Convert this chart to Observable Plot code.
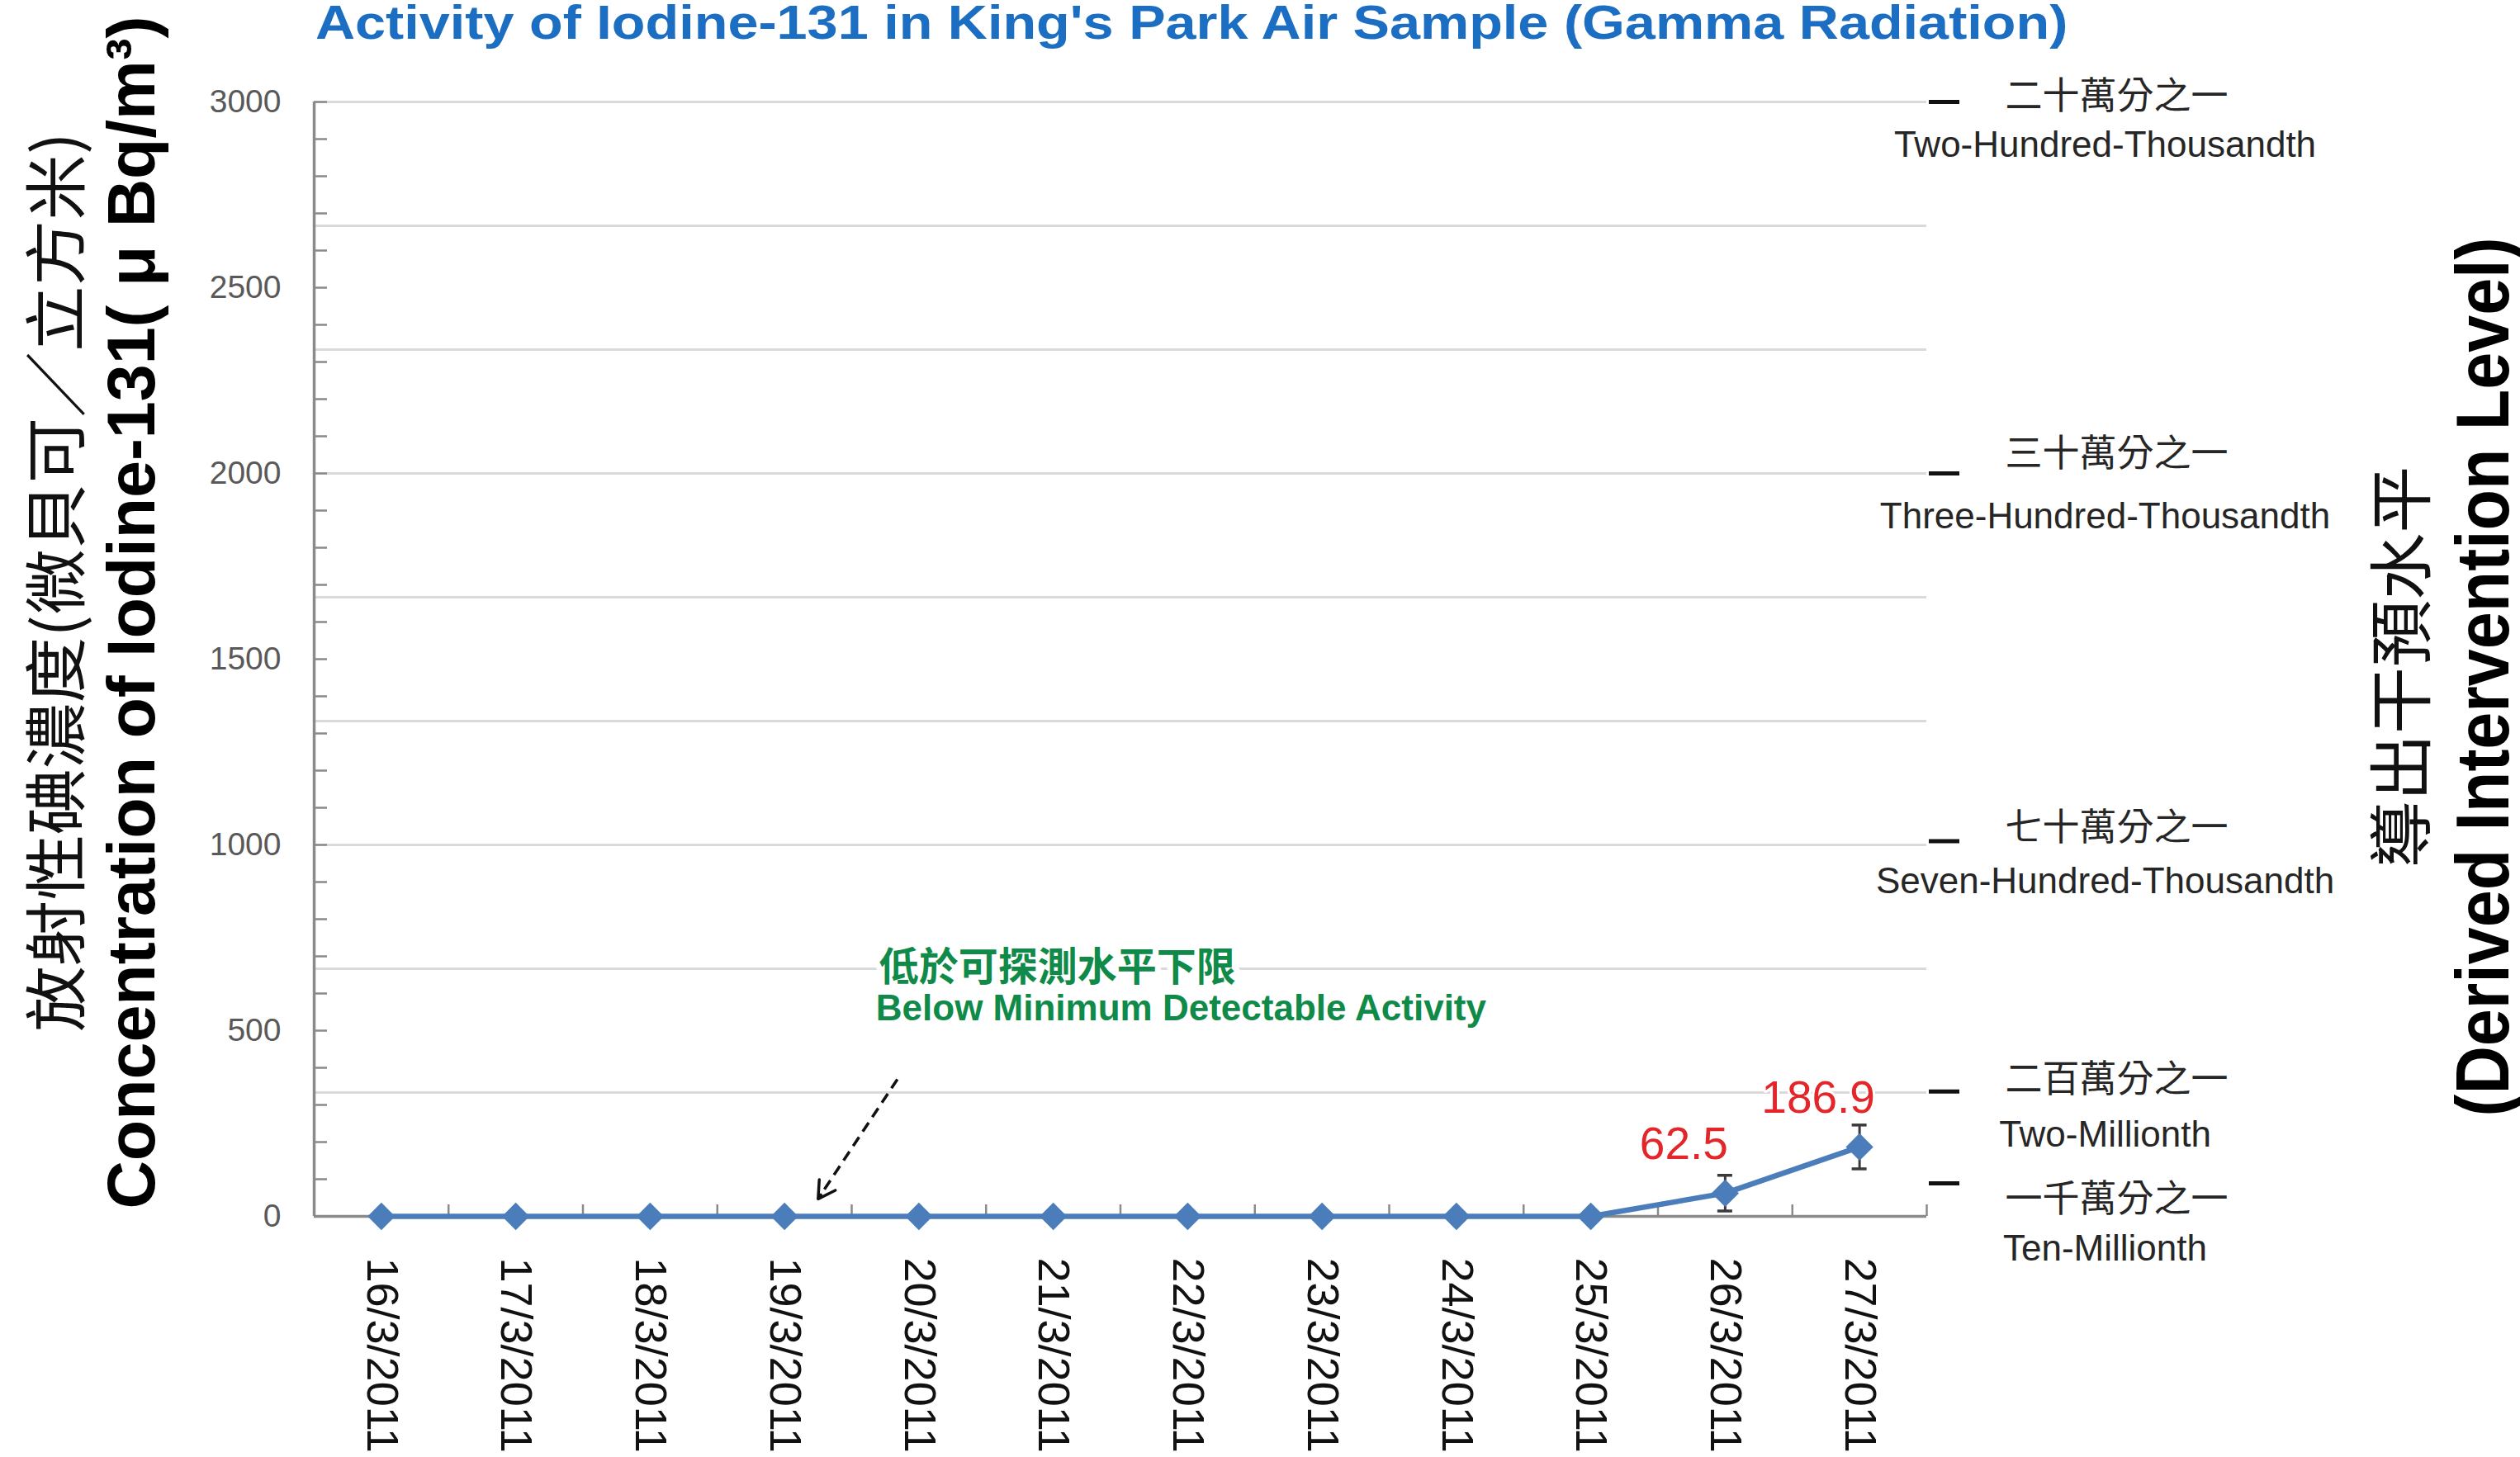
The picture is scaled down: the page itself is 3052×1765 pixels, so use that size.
<!DOCTYPE html>
<html>
<head>
<meta charset="utf-8">
<script src="https://cdn.jsdelivr.net/npm/d3@7"></script>
<script src="https://cdn.jsdelivr.net/npm/@observablehq/plot@0.6"></script>
<style>
  html, body { margin: 0; padding: 0; background: #fff; }
  #title {
    height: 54px; line-height: 54px;
    padding-left: 382px; white-space: nowrap;
  }
  #title span {
    display: inline-block;
    font-family: "Liberation Sans", Arial, sans-serif;
    font-weight: bold; font-size: 58px; color: #1b6ec2;
    transform: scaleX(1.148); transform-origin: 0 50%;
  }
  #chart svg { overflow: visible; display: block; }
</style>
</head>
<body>
<div id="title"><span>Activity of Iodine-131 in King's Park Air Sample (Gamma Radiation)</span></div>
<div id="chart"></div>
<script>
// ---------------- DATA ----------------
const dates = ["16/3/2011","17/3/2011","18/3/2011","19/3/2011","20/3/2011","21/3/2011",
               "22/3/2011","23/3/2011","24/3/2011","25/3/2011","26/3/2011","27/3/2011"];
const values = [0, 0, 0, 0, 0, 0, 0, 0, 0, 0, 62.5, 186.9];
const errors = [null, null, null, null, null, null, null, null, null, null, 48, 59];
const yTickValues = [0, 500, 1000, 1500, 2000, 2500, 3000];
const gridLevels = [333.3, 666.7, 1000, 1333.3, 1666.7, 2000, 2333.3, 2666.7, 3000];
const dilValues = [3000, 2000, 1010, 336, 89];
const dilZh = ["二十萬分之一", "三十萬分之一", "七十萬分之一", "二百萬分之一", "一千萬分之一"];
const dilEn = ["Two-Hundred-Thousandth", "Three-Hundred-Thousandth", "Seven-Hundred-Thousandth", "Two-Millionth", "Ten-Millionth"];

// ---------------- LAYOUT ----------------
const W = 3052, H = 1711;
const mt = 69, ml = 380, mr = 719, mb = 292;
const band = (W - ml - mr) / 12;          // px per category
const unitsPerPx = 3000 / (H - mt - mb);  // y units per px
const zhOff = [-6, -23, -15, -14, 20];
const enOff = [52, 52, 49, 53, 79];
const EN = "'Liberation Sans', Arial, sans-serif";
const ZH = "'Noto Sans CJK TC', 'Noto Sans CJK SC', sans-serif";

const data = dates.map((d, i) => ({i, date: d, v: values[i], e: errors[i]}));
const errData = data.filter(d => d.e != null);
const dil = dilValues.map((v, i) => ({v, zh: dilZh[i], en: dilEn[i], i}));
const yMinor = d3.range(0, 3001, 100);
const xBounds = d3.range(0.5, 12, 1);
const tickLenX = 16 / band;
const tickLenY = 14 * unitsPerPx;
const capHalf = 9 / band;

// annotation arrow (data coordinates)
const arrowFrom = {x: 3.84, y: 369}, arrowTo = {x: 3.25, y: 47};
const arrowLenPx = Math.hypot((arrowFrom.x - arrowTo.x) * band, (arrowFrom.y - arrowTo.y) / unitsPerPx);

const grey = "#8a8a8a";
const blue = "#4a7dba";

const plot = Plot.plot({
  width: W, height: H,
  marginTop: mt, marginLeft: ml, marginRight: mr, marginBottom: mb,
  style: {fontFamily: EN, background: "white", overflow: "visible"},
  x: {type: "linear", domain: [-0.5, 11.5]},
  y: {domain: [0, 3000]},
  marks: [
    Plot.ruleY(gridLevels, {stroke: "#dadada", strokeWidth: 3}),
    // y axis line + inward ticks
    Plot.ruleX([-0.5], {stroke: grey, strokeWidth: 3.5}),
    Plot.ruleY(yMinor, {x1: -0.5, x2: -0.5 + tickLenX, stroke: grey, strokeWidth: 2.5}),
    // x axis line + inward ticks at category boundaries
    Plot.ruleY([0], {stroke: grey, strokeWidth: 3.5}),
    Plot.ruleX(xBounds, {y1: 0, y2: tickLenY, stroke: grey, strokeWidth: 2.5}),
    Plot.axisY({ticks: yTickValues, tickFormat: d => String(d), tickSize: 0, tickPadding: 40,
                fontSize: 39, color: "#595959", label: null}),
    Plot.axisX({ticks: d3.range(12), tickFormat: i => dates[i], tickRotate: 90, tickSize: 0, tickPadding: 50,
                fontSize: 54, color: "#111", label: null}),
    // DIL ticks and labels on the right
    Plot.ruleY(dil, {y: "v", x1: 11.5 + 3 / band, x2: 11.5 + 40 / band, stroke: "#111", strokeWidth: 5}),
    Plot.text(dil, {y: (d, i) => d.v - zhOff[i] * unitsPerPx, frameAnchor: "right", dx: 230, text: "zh",
                    textAnchor: "middle", fontFamily: ZH, fontSize: 45, fill: "#262626"}),
    Plot.text(dil, {y: (d, i) => d.v - enOff[i] * unitsPerPx, frameAnchor: "right", dx: 216, text: "en",
                    textAnchor: "middle", fontSize: 44, fill: "#262626"}),
    // annotation
    Plot.text(["低於可探測水平下限"], {x: 3.705, y: 669, text: d => d, textAnchor: "start", fontFamily: ZH,
                    fontWeight: "bold", fontSize: 48, fill: "#0f8a48", stroke: "white", strokeWidth: 14, paintOrder: "stroke"}),
    Plot.text(["Below Minimum Detectable Activity"], {x: 3.68, y: 558, text: d => d, textAnchor: "start",
                    fontWeight: "bold", fontSize: 44, fill: "#0f8a48", stroke: "white", strokeWidth: 14, paintOrder: "stroke"}),
    Plot.link([0], {x1: arrowFrom.x, y1: arrowFrom.y, x2: arrowTo.x, y2: arrowTo.y, stroke: "#111",
                    strokeWidth: 3.5, strokeDasharray: "13,8"}),
    Plot.arrow([0], {x1: arrowFrom.x, y1: arrowFrom.y, x2: arrowTo.x, y2: arrowTo.y, stroke: "#111",
                    strokeWidth: 3.5, headLength: 10, insetStart: arrowLenPx - 6}),
    // data
    Plot.line(data, {x: "i", y: "v", stroke: blue, strokeWidth: 6.5}),
    Plot.ruleX(errData, {x: "i", y1: d => d.v - d.e, y2: d => d.v + d.e, stroke: "#3a3a3a", strokeWidth: 3}),
    Plot.ruleY(errData, {y: d => d.v + d.e, x1: d => d.i - capHalf, x2: d => d.i + capHalf, stroke: "#3a3a3a", strokeWidth: 3.5}),
    Plot.ruleY(errData, {y: d => d.v - d.e, x1: d => d.i - capHalf, x2: d => d.i + capHalf, stroke: "#3a3a3a", strokeWidth: 3.5}),
    Plot.dot(data, {x: "i", y: "v", symbol: "diamond2", r: 15, fill: blue, stroke: "none"}),
    Plot.text(data.filter(d => d.v > 0), {x: "i", y: "v", text: d => d.v.toFixed(1), dx: -50, dy: -59,
                    fontSize: 55, fill: "#e3262a", stroke: "white", strokeWidth: 6, paintOrder: "stroke"})
  ]
});

document.getElementById("chart").appendChild(plot);

// Axis titles (rotated), positioned in SVG coordinates (SVG top = page y 54)
const svg = d3.select(plot);
function vtext(x, y, str, opts) {
  const t = svg.append("text")
    .attr("transform", `translate(${x},${y}) rotate(-90)`)
    .attr("text-anchor", "middle")
    .attr("font-family", opts.family)
    .attr("font-size", opts.size)
    .attr("font-weight", opts.weight || "normal")
    .attr("fill", opts.fill || "#111");
  if (opts.central) t.attr("dominant-baseline", "central");
  if (opts.length) t.attr("textLength", opts.length).attr("lengthAdjust", "spacingAndGlyphs");
  t.text(str);
  return t;
}
vtext(63, 651, "放射性碘濃度(微貝可／立方米)", {family: ZH, size: 76, central: true, length: 1090, fill: "#111"});
vtext(187, 688, "Concentration of Iodine-131( μ Bq/m³)", {family: EN, size: 82, weight: "bold", length: 1445, fill: "#000"});
vtext(2903, 754, "導出干預水平", {family: ZH, size: 78, central: true, length: 487, fill: "#111"});
vtext(3038, 766, "(Derived Intervention Level)", {family: EN, size: 90, weight: "bold", length: 1065, fill: "#000"});
</script>
</body>
</html>
